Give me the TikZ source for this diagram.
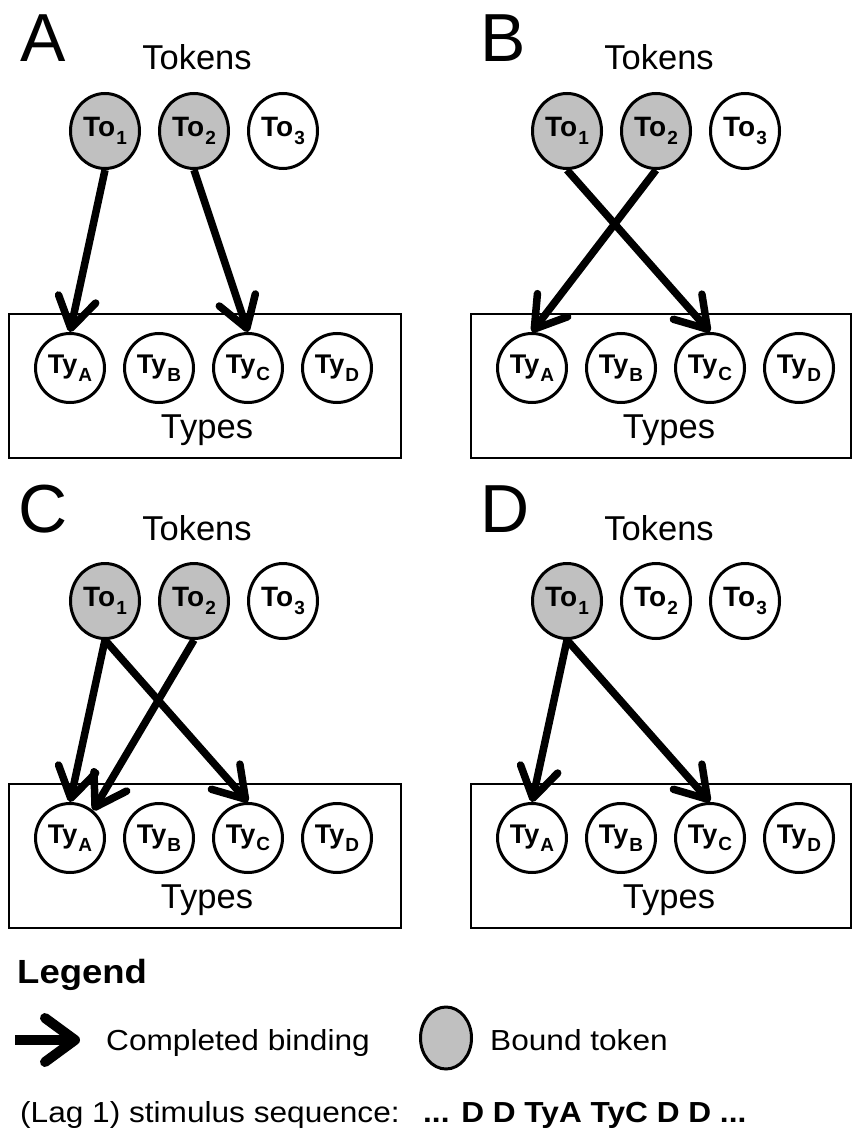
\documentclass[tikz,border=0pt]{standalone}
\usepackage{fontspec}
\setmainfont{Liberation Sans}
\newfontfamily\legfont[FakeStretch=1.09]{Liberation Sans}
\usetikzlibrary{arrows.meta,shapes.geometric}
\definecolor{boundgray}{RGB}{192,192,192}
\newcommand\sublbl[2]{#1\kern1pt\raisebox{-7.5pt}{\fontsize{19}{19}\selectfont #2}}
\tikzset{
  tok/.style={ellipse, draw, line width=3pt, minimum width=69pt, minimum height=75pt,
    inner sep=0pt, font=\bfseries\fontsize{28}{28}\selectfont},
  boundtok/.style={tok, fill=boundgray},
  typ/.style={circle, draw, line width=3pt, minimum size=69pt, inner sep=0pt,
    font=\bfseries\fontsize{27}{27}\selectfont},
  typebox/.style={draw, line width=2pt, anchor=north west, minimum height=144pt, inner sep=0pt},
  bind/.style={line width=7.5pt, -{Straight Barb[length=30pt,width=38pt,round]}},
  plabel/.style={anchor=base west, inner sep=0pt, font=\fontsize{68}{68}\selectfont},
  ttl/.style={anchor=base, inner sep=0pt, font=\fontsize{34.5}{34.5}\selectfont},
  legtext/.style={anchor=base west, inner sep=0pt, font=\legfont\fontsize{29}{29}\selectfont},
}
% #1 prefix, #2 dx, #3 dy, #4 letter, #5 letter x, #6 style of To2, #7 box width
\newcommand\panel[7]{%
\begin{scope}[shift={(#2,#3)}]
  \node[typebox, minimum width=#7] (#1box) at (8,313) {};
  \node[plabel] (#1L) at (#5,62) {#4};
  \node[ttl] (#1tok) at (197,70) {Tokens};
  \node[ttl] (#1typ) at (207,438) {Types};
  \node[boundtok] (#1To1) at (105,131) {\sublbl{To}{1}};
  \node[#6] (#1To2) at (194,131) {\sublbl{To}{2}};
  \node[tok] (#1To3) at (283,131) {\sublbl{To}{3}};
  \node[typ] (#1TyA) at (70,368) {\sublbl{Ty}{A}};
  \node[typ] (#1TyB) at (159,368) {\sublbl{Ty}{B}};
  \node[typ] (#1TyC) at (248,368) {\sublbl{Ty}{C}};
  \node[typ] (#1TyD) at (337,368) {\sublbl{Ty}{D}};
\end{scope}}
\begin{document}
\begin{tikzpicture}[x=1pt,y=-1pt]
\useasboundingbox (0,0) rectangle (853,1131);
\panel{a}{0}{0}{A}{20}{boundtok}{392pt}
\panel{b}{462}{0}{B}{18}{boundtok}{380pt}
\panel{c}{0}{470}{C}{18}{boundtok}{392pt}
\panel{d}{462}{470}{D}{18}{tok}{380pt}
% A
\draw[bind] (aTo1.south) -- (aTyA.north);
\draw[bind] (aTo2.south) -- (aTyC.north);
% B
\draw[bind] (bTo1.south) -- (bTyC.north);
\draw[bind] (bTo2.south) -- (bTyA.north);
% C
\draw[bind] (cTo1.south) -- (cTyA.north);
\draw[bind] (cTo1.south) -- (cTyC.north);
\draw[bind] (cTo2.south) -- (cTyA.50);
% D
\draw[bind] (dTo1.south) -- (dTyA.north);
\draw[bind] (dTo1.south) -- (dTyC.north);
% Legend
\node[anchor=base west, inner sep=0pt, font=\legfont\bfseries\fontsize{33.5}{33.5}\selectfont] (legtitle) at (17,983) {Legend};
\coordinate (lgA) at (15,1040);
\coordinate (lgB) at (80,1040);
\draw[line width=10pt, -{Straight Barb[length=30pt,width=44pt,round]}] (lgA) -- (lgB);
\node[legtext] (legbind) at (106,1050) {Completed binding};
\node[ellipse, draw, line width=3pt, fill=boundgray, minimum width=51pt, minimum height=62pt, inner sep=0pt] (legtok) at (446,1038) {};
\node[legtext] (legbound) at (490,1050) {Bound token};
\node[legtext] (legseq) at (20,1122) {(Lag 1) stimulus sequence:};
\node[legtext, font=\legfont\bfseries\fontsize{29}{29}\selectfont] (legseqb) at (423,1122) {... D D TyA TyC D D ...};
\end{tikzpicture}
\end{document}
